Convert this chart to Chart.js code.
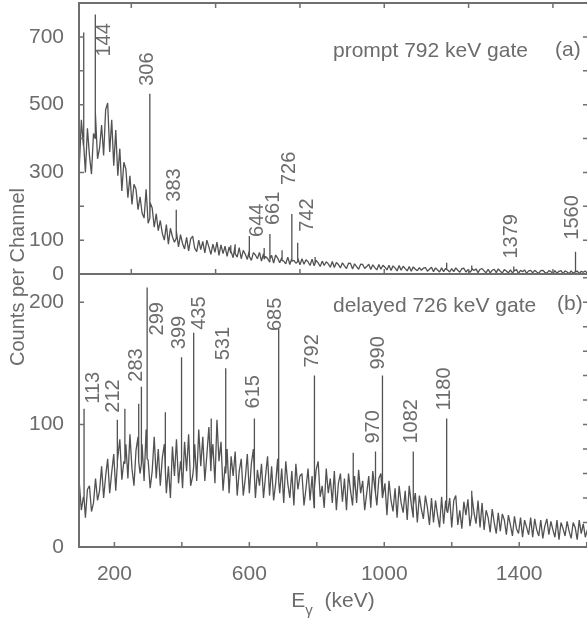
<!DOCTYPE html>
<html>
<head>
<meta charset="utf-8">
<script src="https://cdn.jsdelivr.net/npm/chart.js@4.4.1/dist/chart.umd.min.js"></script>
<style>
  html, body { margin: 0; padding: 0; background: #fff; overflow: hidden; width: 587px; height: 623px; }
  #wrap { position: relative; width: 587px; height: 623px; overflow: hidden; }
  canvas { position: absolute; left: 0; top: 0; }
</style>
</head>
<body>
<div id="wrap">
  <canvas id="delayedChart" width="592" height="623"></canvas>
  <canvas id="promptChart" width="592" height="623"></canvas>
</div>
<script>
// energy calibration of the binned spectra (keV)
const binStart = 96;
const binWidth = 6;

// (a) prompt 792 keV gate, counts per bin
const promptCounts = [
  320, 455, 380, 300, 430, 350, 295, 415, 480, 340,
  372, 440, 350, 485, 505, 360, 455, 320, 425, 290,
  370, 245, 330, 310, 225, 290, 205, 265, 250, 190,
  228, 180, 165, 250, 150, 210, 195, 138, 178, 128,
  158, 120, 100, 146, 88, 135, 110, 94, 128, 80,
  116, 90, 74, 108, 68, 104, 112, 76, 66, 100,
  72, 96, 62, 100, 80, 58, 88, 64, 94, 55,
  86, 60, 82, 52, 80, 66, 48, 86, 50, 78,
  45, 70, 58, 43, 70, 40, 63, 56, 45, 64,
  38, 60, 52, 46, 36, 55, 32, 56, 47, 33,
  48, 38, 30, 50, 28, 46, 40, 32, 48, 27,
  45, 29, 42, 36, 25, 44, 24, 40, 33, 22,
  38, 25, 36, 30, 20, 37, 19, 34, 28, 18,
  33, 24, 16, 32, 31, 15, 30, 22, 14, 29,
  28, 16, 22, 29, 13, 27, 19, 12, 28, 14,
  26, 20, 12, 26, 10, 24, 18, 9, 25, 11,
  23, 16, 9, 22, 8, 21, 14, 10, 19, 11,
  17, 19, 8, 14, 20, 7, 18, 12, 6, 18,
  7, 17, 12, 6, 16, 7, 18, 11, 5, 16,
  17, 6, 13, 5, 17, 10, 15, 4, 14, 16,
  9, 4, 14, 3, 11, 14, 4, 15, 8, 3,
  13, 9, 3, 12, 3, 10, 13, 2, 11, 7,
  12, 2, 9, 11, 3, 11, 6, 2, 10, 11,
  5, 2, 10, 7, 1, 10, 2, 8, 10, 1,
  9, 6, 1, 9, 2, 7, 9, 1, 8, 5,
  9, 2
];
const promptPeakE    = [109, 143, 305, 383, 545, 558, 600, 644, 661, 697, 726, 743, 795, 1185, 1259, 1384, 1567];
const promptPeakTop  = [713, 766, 532, 190, 85, 88, 112, 77, 118, 70, 177, 92, 50, 33, 25, 22, 66];
const promptPeakBase = [380, 400, 165, 105, 62, 60, 52, 44, 44, 40, 38, 36, 32, 13, 11, 8, 5];
const promptLabels = ['144', '306', '383', '644', '661', '726', '742', '1379', '1560'];

// (b) delayed 726 keV gate, counts per bin
const delayedCounts = [
  52, 30, 41, 24, 47, 50, 29, 36, 56, 38,
  46, 66, 40, 58, 72, 44, 61, 76, 46, 70,
  88, 55, 70, 84, 56, 92, 64, 50, 79, 90,
  60, 84, 54, 96, 71, 48, 62, 90, 56, 80,
  50, 73, 84, 44, 66, 40, 82, 58, 88, 52,
  70, 48, 86, 62, 92, 50, 58, 84, 54, 96,
  66, 90, 54, 75, 98, 62, 84, 52, 104, 70,
  86, 46, 66, 80, 44, 74, 58, 78, 42, 62,
  72, 42, 56, 76, 44, 68, 80, 40, 63, 50,
  68, 40, 58, 74, 42, 66, 38, 52, 72, 44,
  64, 36, 70, 52, 40, 62, 34, 68, 47, 58,
  60, 34, 48, 64, 38, 58, 32, 63, 70, 41,
  50, 32, 64, 44, 56, 36, 62, 30, 52, 60,
  37, 56, 30, 60, 46, 34, 58, 36, 63, 44,
  54, 30, 44, 58, 32, 62, 48, 34, 56, 60,
  40, 52, 26, 54, 38, 29, 48, 24, 50, 36,
  28, 46, 22, 50, 35, 24, 44, 20, 42, 31,
  23, 42, 32, 18, 40, 20, 38, 26, 16, 41,
  19, 38, 28, 40, 16, 38, 42, 18, 30, 15,
  37, 26, 39, 17, 43, 28, 19, 38, 16, 36,
  14, 30, 24, 12, 31, 20, 11, 28, 13, 27,
  22, 10, 26, 18, 9, 25, 15, 11, 24, 8,
  22, 16, 10, 24, 8, 23, 14, 9, 22, 7,
  17, 23, 10, 21, 14, 8, 22, 6, 20, 15,
  9, 21, 13, 7, 20, 16, 6, 22, 11, 19,
  8, 14
];
const delayedPeakE    = [110, 208, 231, 272, 280, 297, 351, 399, 435, 487, 530, 615, 687, 793, 908, 974, 994, 1086, 1185, 1259];
const delayedPeakTop  = [113, 104, 113, 117, 131, 212, 110, 155, 175, 105, 146, 105, 178, 140, 77, 78, 140, 78, 105, 46];
const delayedPeakBase = [40, 65, 68, 70, 68, 72, 62, 62, 66, 70, 60, 58, 54, 48, 44, 44, 42, 34, 30, 26];
const delayedLabels = ['113', '212', '283', '299', '399', '435', '531', '615', '685', '792', '970', '990', '1082', '1180'];

// axes
const energyTicks = [200, 400, 600, 800, 1000, 1200, 1400, 1600];
const energyTickLabels = [200, 600, 1000, 1400];
const promptEnergyTicks = [250, 500, 750, 1000, 1250, 1500];
const promptYTicks = [0, 100, 200, 300, 400, 500, 600, 700];
const promptYTickLabels = [0, 100, 300, 500, 700];
const delayedYTicks = [0, 100, 200];
const delayedRightTicks = [0, 20, 40, 60, 80, 100, 120, 140, 160, 180, 200, 220];

const FONT = "'Liberation Sans', Arial, Helvetica, sans-serif";
const TEXT = '#6c6c6c';
const AXIS = '#6f6f6f';

function spectrumPoints(counts, peakE, peakTop, peakBase) {
  const pts = counts.map((c, i) => ({ x: binStart + i * binWidth, y: c }));
  peakE.forEach((e, i) => {
    pts.push({ x: e, y: peakBase[i] }, { x: e, y: peakTop[i] }, { x: e, y: peakBase[i] });
  });
  pts.sort((a, b) => a.x - b.x);
  return pts;
}

// label placement relative to the peak it names: [dx, gap above peak top]
const labelNudge = {
  '144': [9.5, -42], '644': [-6.5, 11], '661': [4, 9], '726': [-2, 29], '742': [10, 11],
  '1560': [-3, 12], '113': [9, 5], '212': [-3.5, 7], '283': [-5, 5], '299': [10.5, -48],
  '435': [6, 3], '615': [-1, 10], '685': [-3, -2], '990': [-4, 6]
};

const panelPlugin = {
  id: 'panel',
  afterDatasetsDraw(chart, args, o) {
    const ctx = chart.ctx;
    const a = chart.chartArea;
    const xs = chart.scales.x, ys = chart.scales.y;
    ctx.save();
    // frame
    ctx.strokeStyle = AXIS;
    ctx.lineWidth = 2;
    ctx.strokeRect(a.left, a.top, a.right - a.left, a.bottom - a.top);
    // inward ticks
    ctx.lineWidth = 1.5;
    ctx.beginPath();
    (o.bottomTicks || []).forEach(v => { const x = xs.getPixelForValue(v); ctx.moveTo(x, a.bottom); ctx.lineTo(x, a.bottom - 5); });
    (o.topTicks || []).forEach(v => { const x = xs.getPixelForValue(v); ctx.moveTo(x, a.top); ctx.lineTo(x, a.top + 5); });
    (o.leftTicks || []).forEach(v => { const y = ys.getPixelForValue(v); ctx.moveTo(a.left, y); ctx.lineTo(a.left + 5, y); });
    (o.rightTicks || []).forEach(v => { const y = ys.getPixelForValue(v); ctx.moveTo(a.right, y); ctx.lineTo(a.right - 5, y); });
    ctx.stroke();

    ctx.fillStyle = TEXT;
    // gate caption and panel tag
    ctx.font = '21px ' + FONT;
    ctx.textAlign = 'left';
    ctx.textBaseline = 'alphabetic';
    ctx.fillText(o.caption, o.captionX, o.captionY);
    ctx.fillText(o.tag, o.tagX, o.tagY);

    // peak labels
    ctx.font = '20px ' + FONT;
    ctx.textBaseline = 'middle';
    o.labels.forEach(txt => {
      const e = parseInt(txt, 10);
      let k = 0;
      o.peakE.forEach((pe, i) => { if (Math.abs(pe - e) < Math.abs(o.peakE[k] - e)) k = i; });
      const nudge = labelNudge[txt] || [-2, 8];
      const px = xs.getPixelForValue(o.peakE[k]) + nudge[0];
      const py = ys.getPixelForValue(o.peakTop[k]) - nudge[1];
      ctx.save();
      ctx.translate(px, py);
      ctx.rotate(-Math.PI / 2);
      ctx.fillText(txt, 0, 0);
      ctx.restore();
    });

    if (o.yTitle) {
      ctx.save();
      ctx.font = '20px ' + FONT;
      ctx.textAlign = 'center';
      ctx.translate(18, 277);
      ctx.rotate(-Math.PI / 2);
      ctx.fillText(o.yTitle, 0, 0);
      ctx.restore();
    }
    if (o.xTitle) {
      ctx.textBaseline = 'alphabetic';
      ctx.font = '21px ' + FONT;
      const wE = ctx.measureText('E').width;
      const wRest = ctx.measureText('  (keV)').width;
      ctx.font = '15px ' + FONT;
      const wG = ctx.measureText('\u03b3').width;
      let x = 333 - (wE + wG + wRest) / 2;
      ctx.font = '21px ' + FONT;
      ctx.fillText('E', x, 607);
      ctx.font = '15px ' + FONT;
      ctx.fillText('\u03b3', x + wE, 615);
      ctx.font = '21px ' + FONT;
      ctx.fillText('  (keV)', x + wE + wG, 607);
    }
    ctx.restore();
  }
};

function tickList(values) {
  return scale => { scale.ticks = values.map(v => ({ value: v })); };
}

// fixed axis size, no extra room reserved for edge labels
function fixedWidth(w) {
  return s => { s.width = w; s.paddingTop = 0; s.paddingBottom = 0; };
}
function fixedHeight(h) {
  return s => { s.height = h; s.paddingLeft = 0; s.paddingRight = 0; };
}

function lineDataset(points) {
  return {
    data: points,
    borderColor: '#525252',
    borderWidth: 1.3,
    pointRadius: 0,
    tension: 0,
    borderJoinStyle: 'bevel'
  };
}

const tickStyle = {
  color: TEXT, font: { family: FONT, size: 21 }, padding: 7, autoSkip: false, maxRotation: 0,
  callback: v => String(v)
};

new Chart(document.getElementById('promptChart'), {
  type: 'line',
  data: { datasets: [lineDataset(spectrumPoints(promptCounts, promptPeakE, promptPeakTop, promptPeakBase))] },
  options: {
    responsive: false,
    animation: false,
    devicePixelRatio: 1,
    layout: { padding: { top: 3, right: 4, bottom: 349, left: 0 } },
    plugins: {
      legend: { display: false },
      tooltip: { enabled: false },
      panel: {
        bottomTicks: promptEnergyTicks, topTicks: promptEnergyTicks,
        leftTicks: promptYTicks, rightTicks: promptYTicks,
        caption: 'prompt 792 keV gate', captionX: 333, captionY: 57,
        tag: '(a)', tagX: 555, tagY: 56,
        labels: promptLabels, peakE: promptPeakE, peakTop: promptPeakTop,
        yTitle: 'Counts per Channel'
      }
    },
    scales: {
      x: { type: 'linear', min: 95, max: 1604, display: false },
      y: {
        type: 'linear', min: 0, max: 800,
        afterFit: fixedWidth(79),
        afterBuildTicks: tickList(promptYTickLabels),
        grid: { display: false }, border: { display: false },
        ticks: tickStyle
      }
    }
  },
  plugins: [panelPlugin]
});

new Chart(document.getElementById('delayedChart'), {
  type: 'line',
  data: { datasets: [lineDataset(spectrumPoints(delayedCounts, delayedPeakE, delayedPeakTop, delayedPeakBase))] },
  options: {
    responsive: false,
    animation: false,
    devicePixelRatio: 1,
    layout: { padding: { top: 274, right: 4, bottom: 0, left: 0 } },
    plugins: {
      legend: { display: false },
      tooltip: { enabled: false },
      panel: {
        bottomTicks: energyTicks, topTicks: [],
        leftTicks: delayedYTicks, rightTicks: delayedRightTicks,
        caption: 'delayed 726 keV gate', captionX: 333, captionY: 312,
        tag: '(b)', tagX: 557, tagY: 310,
        labels: delayedLabels, peakE: delayedPeakE, peakTop: delayedPeakTop,
        xTitle: true
      }
    },
    scales: {
      x: {
        type: 'linear', min: 95, max: 1604,
        afterFit: fixedHeight(76),
        afterBuildTicks: tickList(energyTickLabels),
        grid: { display: false }, border: { display: false },
        ticks: tickStyle
      },
      y: {
        type: 'linear', min: 0, max: 223,
        afterFit: fixedWidth(79),
        afterBuildTicks: tickList(delayedYTicks),
        grid: { display: false }, border: { display: false },
        ticks: tickStyle
      }
    }
  },
  plugins: [panelPlugin]
});
</script>
</body>
</html>
